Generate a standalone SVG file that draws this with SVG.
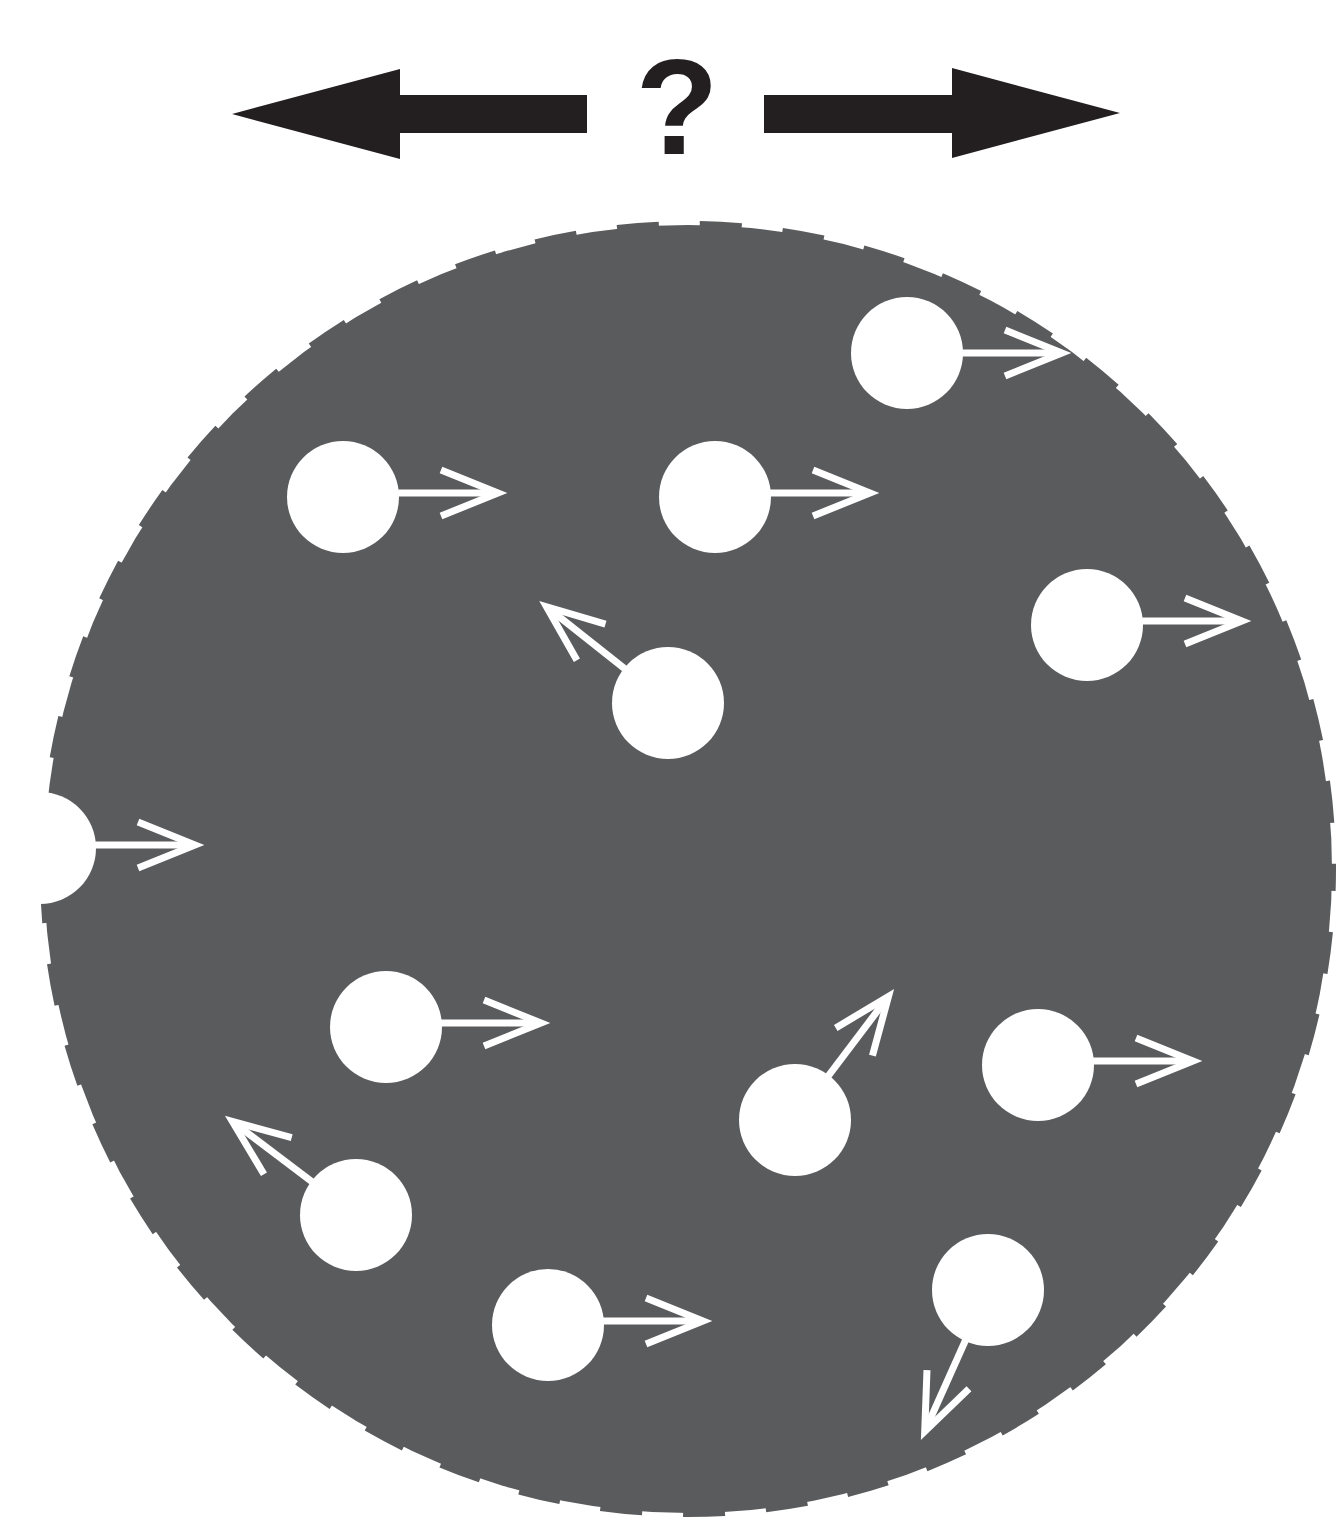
<svg xmlns="http://www.w3.org/2000/svg" xmlns:xlink="http://www.w3.org/1999/xlink" width="1338" height="1520" viewBox="0 0 1338 1520">
<style>
.part{fill:#ffffff}
.arr line,.arr polyline{stroke:#ffffff;stroke-width:7;fill:none;stroke-linejoin:miter;stroke-miterlimit:10}
.big{fill:#231f20}
</style>
<defs>
<g id="arr" class="arr">
<line x1="0" y1="0" x2="153" y2="0"/>
<polyline points="98,-23 155,0 98,23"/>
</g>
</defs>
<rect width="1338" height="1520" fill="#ffffff"/>
<g id="field">
<circle cx="688" cy="869" r="645" fill="none" stroke="#5a5b5d" stroke-width="6" stroke-dasharray="42 41" stroke-dashoffset="20"/>
<circle cx="688" cy="869" r="644" fill="#5a5b5d"/>
</g>
<g id="direction">
<polygon class="big" points="232,114 400,69 400,95 587,95 587,133 400,133 400,159"/>
<polygon class="big" points="1120,113 952,68 952,95 764,95 764,133 952,133 952,158"/>
<text x="677" y="154" font-family="Liberation Sans, Arial, sans-serif" font-weight="bold" font-size="136" text-anchor="middle" fill="#231f20">?</text>
</g>
<g id="connectors">
<use xlink:href="#arr" transform="translate(907,353)"/>
<use xlink:href="#arr" transform="translate(343,493)"/>
<use xlink:href="#arr" transform="translate(715,493)"/>
<use xlink:href="#arr" transform="translate(1087,621)"/>
<use xlink:href="#arr" transform="translate(668,703) rotate(-141.6)"/>
<use xlink:href="#arr" transform="translate(40,845)"/>
<use xlink:href="#arr" transform="translate(386,1023)"/>
<use xlink:href="#arr" transform="translate(795,1120) rotate(-52.9)"/>
<use xlink:href="#arr" transform="translate(1038,1061)"/>
<use xlink:href="#arr" transform="translate(356,1215) rotate(-142.9)"/>
<use xlink:href="#arr" transform="translate(548,1321)"/>
<use xlink:href="#arr" transform="translate(988,1290) rotate(114.1)"/>
</g>
<g id="p1"><circle class="part" cx="907" cy="353" r="56"/></g>
<g id="p2"><circle class="part" cx="343" cy="497" r="56"/></g>
<g id="p3"><circle class="part" cx="715" cy="497" r="56"/></g>
<g id="p4"><circle class="part" cx="1087" cy="625" r="56"/></g>
<g id="p5"><circle class="part" cx="668" cy="703" r="56"/></g>
<g id="p6"><circle class="part" cx="40" cy="848" r="56"/></g>
<g id="p7"><circle class="part" cx="386" cy="1027" r="56"/></g>
<g id="p8"><circle class="part" cx="795" cy="1120" r="56"/></g>
<g id="p9"><circle class="part" cx="1038" cy="1065" r="56"/></g>
<g id="p10"><circle class="part" cx="356" cy="1215" r="56"/></g>
<g id="p11"><circle class="part" cx="548" cy="1325" r="56"/></g>
<g id="p12"><circle class="part" cx="988" cy="1290" r="56"/></g>
</svg>
